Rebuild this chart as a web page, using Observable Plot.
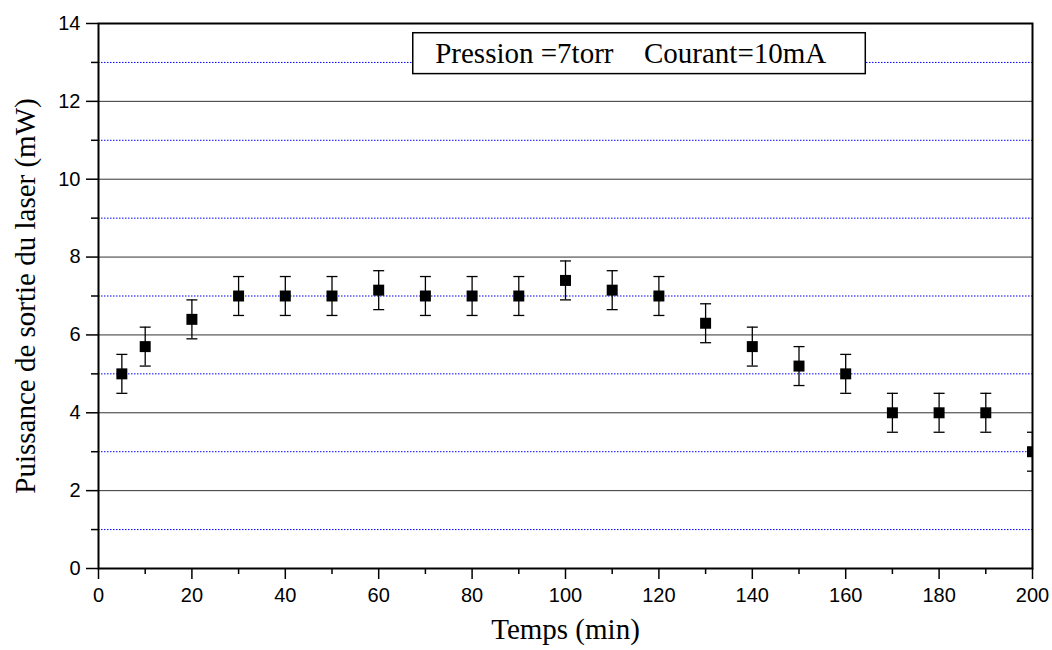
<!DOCTYPE html>
<html>
<head>
<meta charset="utf-8">
<script src="https://cdn.jsdelivr.net/npm/d3@7"></script>
<script src="https://cdn.jsdelivr.net/npm/@observablehq/plot@0.6"></script>
<style>
  html, body { margin: 0; padding: 0; background: #fff; }
  #chart svg { display: block; }
</style>
</head>
<body>
<div id="chart"></div>
<script>
// Data
const temps = [5, 10, 20, 30, 40, 50, 60, 70, 80, 90, 100, 110, 120, 130, 140, 150, 160, 170, 180, 190, 200];
const puissance = [5.0, 5.7, 6.4, 7.0, 7.0, 7.0, 7.15, 7.0, 7.0, 7.0, 7.4, 7.15, 7.0, 6.3, 5.7, 5.2, 5.0, 4.0, 4.0, 4.0, 3.0];
const erreur = [0.5, 0.5, 0.5, 0.5, 0.5, 0.5, 0.5, 0.5, 0.5, 0.5, 0.5, 0.5, 0.5, 0.5, 0.5, 0.5, 0.5, 0.5, 0.5, 0.5, 0.5];

const yMajorTicks = [0, 2, 4, 6, 8, 10, 12, 14];
const yMinorTicks = [1, 3, 5, 7, 9, 11, 13];
const xMajorTicks = [0, 20, 40, 60, 80, 100, 120, 140, 160, 180, 200];
const xMinorTicks = [10, 30, 50, 70, 90, 110, 130, 150, 170, 190];
const gridMajor = [2, 4, 6, 8, 10, 12];
const gridMinor = [1, 3, 5, 7, 9, 11, 13];

const xTitle = "Temps (min)";
const yTitle = "Puissance de sortie du laser (mW)";
const legendParts = ["Pression =7torr", "Courant=10mA"];
const legendPartX = [72.1, 116.8];
const legendY = 13.22;
const legendBox = {x1: 67.4, x2: 164.3, y1: 12.70, y2: 13.75};

const data = temps.map((t, i) => ({t, p: puissance[i], lo: puissance[i] - erreur[i], hi: puissance[i] + erreur[i]}));
const legendData = legendParts.map((s, i) => ({s, x: legendPartX[i], y: legendY}));

const sans = "'Liberation Sans', Arial, sans-serif";
const serif = "'Liberation Serif', 'Times New Roman', serif";

const capSymbol = {
  draw(ctx, size) {
    const w = 5.5;
    ctx.moveTo(-w, 0);
    ctx.lineTo(w, 0);
  }
};

const chart = Plot.plot({
  width: 1052,
  height: 650,
  marginLeft: 98,
  marginRight: 20,
  marginTop: 23,
  marginBottom: 82,
  style: {background: "#fff", color: "#000"},
  x: {domain: [0, 200]},
  y: {domain: [0, 14]},
  marks: [
    Plot.ruleY(gridMinor, {stroke: "#0000ff", strokeWidth: 1, strokeDasharray: "1.5,1.5"}),
    Plot.ruleY(gridMajor, {stroke: "#333", strokeWidth: 1}),
    Plot.rect([legendBox], {x1: "x1", x2: "x2", y1: "y1", y2: "y2", fill: "#fff", stroke: "#000", strokeWidth: 1.5}),
    Plot.text(legendData, {x: "x", y: "y", text: "s", textAnchor: "start", fontFamily: serif, fontSize: 29, fill: "#000"}),
    Plot.ruleX(data, {x: "t", y1: "lo", y2: "hi", stroke: "#000", strokeWidth: 1.3, clip: true}),
    Plot.dot(data, {x: "t", y: "lo", symbol: capSymbol, r: 5, stroke: "#000", strokeWidth: 1.3, fill: "none", clip: true}),
    Plot.dot(data, {x: "t", y: "hi", symbol: capSymbol, r: 5, stroke: "#000", strokeWidth: 1.3, fill: "none", clip: true}),
    Plot.dot(data, {x: "t", y: "p", symbol: "square", r: 6.2, fill: "#000", stroke: "none", clip: true}),
    Plot.axisY({ticks: yMajorTicks, tickSize: 12, tickPadding: 6, tickFormat: d => String(d), fontSize: 20, fontFamily: sans, strokeWidth: 1.5, label: null}),
    Plot.axisY({ticks: yMinorTicks, tickSize: 7, tickFormat: null, text: null, strokeWidth: 1.5, label: null}),
    Plot.axisX({ticks: xMajorTicks, tickSize: 11, tickPadding: 8, tickFormat: d => String(d), fontSize: 20, fontFamily: sans, strokeWidth: 1.5, label: null}),
    Plot.axisX({ticks: xMinorTicks, tickSize: 6, text: null, strokeWidth: 1.5, label: null}),
    Plot.frame({stroke: "#000", strokeWidth: 2}),
    Plot.text([xTitle], {frameAnchor: "bottom", dy: 70, lineAnchor: "bottom", textAnchor: "middle", fontFamily: serif, fontSize: 29, fill: "#000"}),
    Plot.text([yTitle], {frameAnchor: "left", dx: -73, rotate: -90, lineAnchor: "middle", textAnchor: "middle", fontFamily: serif, fontSize: 29, fill: "#000"})
  ]
});

document.getElementById("chart").appendChild(chart);
</script>
</body>
</html>
